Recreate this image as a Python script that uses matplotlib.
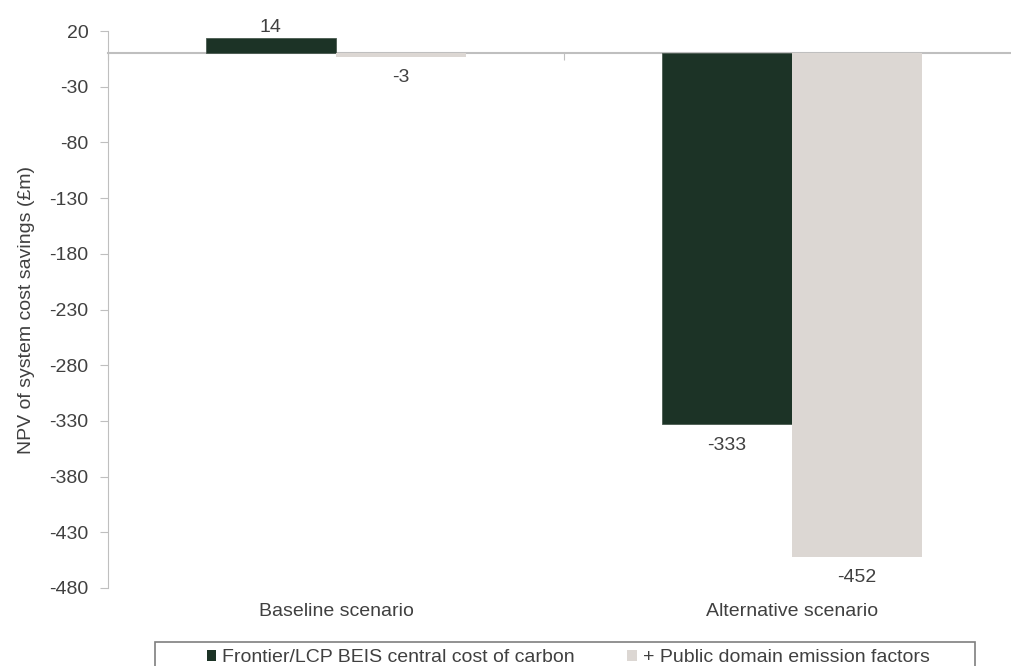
import matplotlib.pyplot as plt
from matplotlib.patches import Rectangle, Patch

plt.rcParams['font.family'] = ['Liberation Sans', 'DejaVu Sans']
plt.rcParams['axes.unicode_minus'] = False

scenarios = ['Baseline scenario', 'Alternative scenario']
frontier = [14, -333]
public = [-3, -452]
series_names = ['Frontier/LCP BEIS central cost of carbon', '+ Public domain emission factors']
yticks = [20, -30, -80, -130, -180, -230, -280, -330, -380, -430, -480]

dark = '#1c3326'
light = '#dcd7d3'
txt = '#404040'
grey = '#bfbfbf'

fig = plt.figure(figsize=(10.11, 6.66), dpi=100)
ax = fig.add_axes([108 / 1011, 1 - 588 / 666, 912 / 1011, 557 / 666])

w = 0.286
x = list(range(len(scenarios)))
ax.bar([i - w / 2 for i in x], frontier, w, color=dark, edgecolor='#4a5a50', linewidth=0.6)
ax.bar([i + w / 2 for i in x], public, w, color=light, linewidth=0)

for i in x:
    for xs, v in ((i - w / 2, frontier[i]), (i + w / 2, public[i])):
        if v >= 0:
            ax.annotate(str(v), (xs, v), xytext=(0, 1), textcoords='offset points',
                        ha='center', va='bottom', fontsize=14, color=txt)
        else:
            ax.annotate(str(v), (xs, v), xytext=(0, -9), textcoords='offset points',
                        ha='center', va='top', fontsize=14, color=txt)

ax.set_xlim(-0.5, 1.5)
ax.set_ylim(-480, 20)
ax.set_yticks(yticks)
ax.tick_params(axis='y', colors=grey, labelcolor=txt, labelsize=14, length=6, pad=8)

ax.spines['top'].set_visible(False)
ax.spines['right'].set_visible(False)
ax.spines['left'].set_color(grey)
ax.spines['bottom'].set_position(('data', 0))
ax.spines['bottom'].set_color(grey)
ax.spines['bottom'].set_linewidth(1.5)
ax.spines['bottom'].set_zorder(0)
ax.set_xticks([-0.5, 0.5, 1.5])
ax.set_xticklabels([])
ax.tick_params(axis='x', colors=grey, length=5)

for i, name in enumerate(scenarios):
    ax.text(i, -501, name, ha='center', va='center', fontsize=14, color=txt)

ax.set_ylabel('NPV of system cost savings (£m)', fontsize=14, color=txt, labelpad=10)

handles = [Patch(facecolor=dark), Patch(facecolor=light)]
fig.legend(handles, series_names, loc='center left', bbox_to_anchor=(197 / 1011, 1 - 658 / 666),
           ncol=2, frameon=False, fontsize=14, handlelength=0.5, handleheight=0.5,
           handletextpad=0.3, columnspacing=2.7, borderpad=0, labelcolor=txt)
fig.patches.append(Rectangle((155 / 1011, -0.05), 820 / 1011, 0.05 + 24 / 666,
                             transform=fig.transFigure, fill=False, edgecolor='#7f7f7f',
                             linewidth=1.2))

fig.savefig('out.png', dpi=100)
